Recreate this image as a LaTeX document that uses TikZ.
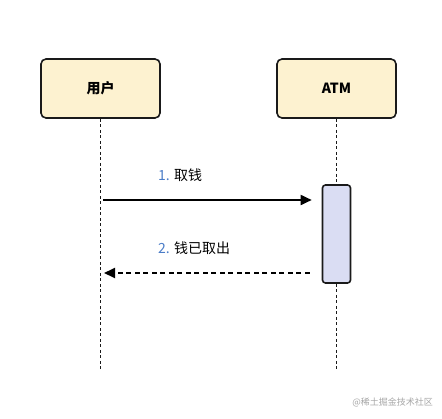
\documentclass[tikz,border=0pt]{standalone}
\usepackage{fontspec}
\setmainfont{Noto Sans CJK SC}
\newfontfamily\cjk{Noto Sans CJK SC}
\usetikzlibrary{arrows.meta}
\definecolor{boxfill}{HTML}{FDF2D0}
\definecolor{actfill}{HTML}{DADDF3}
\definecolor{numblue}{HTML}{4A7CC7}
\definecolor{linec}{HTML}{1A1A1A}
\tikzset{
  actor/.style={draw=linec, line width=1.6pt, rounded corners=5pt, fill=boxfill,
    minimum width=119pt, minimum height=59pt, inner sep=0pt, font=\cjk\bfseries\fontsize{14}{16}\selectfont},
  lifeline/.style={draw=linec, line width=1.9pt, dash pattern=on 3pt off 2.5pt},
  actbox/.style={draw=linec, line width=1.6pt, rounded corners=3pt, fill=actfill,
    minimum width=28pt, minimum height=98pt, inner sep=0pt},
  msg/.style={draw=black, line width=1.8pt, -{Triangle[length=11pt,width=10pt]}},
  msgret/.style={msg, dash pattern=on 5pt off 3.5pt},
  lbl/.style={font=\cjk\fontsize{14}{16}\selectfont, anchor=west, inner sep=0pt},
}
\begin{document}
\begin{tikzpicture}[x=1pt,y=-1pt]
\useasboundingbox (0,0) rectangle (442,418);
\node[actor] (user) at (100.5,88.5) {用户};
\node[actor] (atm) at (336.5,88.5) {ATM};
\coordinate (uend) at (100.5,370);
\coordinate (aend) at (336.5,370);
\draw[lifeline] (user.south) -- (uend);
\draw[lifeline] (atm.south) -- (aend);
\node[actbox] (act) at (336.5,234) {};
\coordinate (m1s) at (103,200);
\coordinate (m2e) at (104,273);
\draw[msg, shorten >=10pt] (m1s) -- (act.west |- m1s);
\draw[msgret, shorten <=12pt] (act.west |- m2e) -- (m2e);
\node[lbl] (l1) at (158,175) {\textcolor{numblue}{1.} 取钱};
\node[lbl] (l2) at (158,248) {\textcolor{numblue}{2.} 钱已取出};
\node[font=\cjk\fontsize{9}{10}\selectfont, text=black!35, anchor=east, inner sep=0pt] (wm) at (433,402) {@稀土掘金技术社区};
\end{tikzpicture}
\end{document}
